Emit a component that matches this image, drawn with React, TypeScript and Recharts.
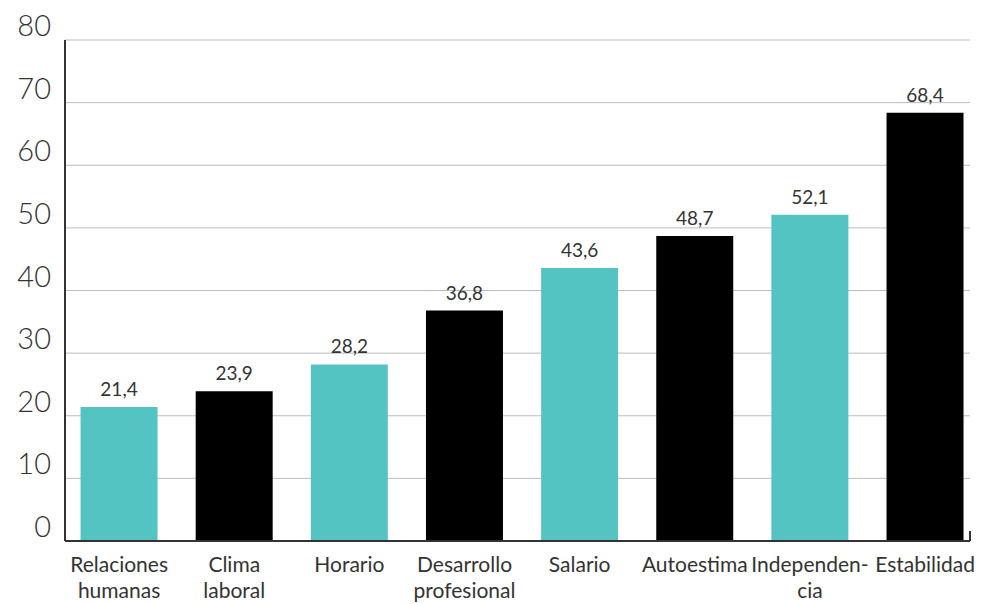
import React from 'react';
import { BarChart, Bar, XAxis, YAxis, CartesianGrid, Cell, LabelList, ReferenceLine } from 'recharts';

const categories = [
  'Relaciones\nhumanas',
  'Clima\nlaboral',
  'Horario',
  'Desarrollo\nprofesional',
  'Salario',
  'Autoestima',
  'Independen-\ncia',
  'Estabilidad',
];
const values = [21.4, 23.9, 28.2, 36.8, 43.6, 48.7, 52.1, 68.4];
const barColors = ['#53c4c1', '#000000', '#53c4c1', '#000000', '#53c4c1', '#000000', '#53c4c1', '#000000'];
const yTicks = [0, 10, 20, 30, 40, 50, 60, 70, 80];
const xTicks = [0, 1, 2, 3, 4, 5, 6, 7];
const X_DOMAIN: [number, number] = [-0.47, 7.39];

const data = values.map((v, i) => ({ idx: i, name: categories[i], value: v }));

const FONT = 'Lato, "Noto Sans", sans-serif';

const YTick = (props: any) => {
  const { x, y, payload } = props;
  return (
    <text x={x + 1} y={y} dy={-4} textAnchor="end" fontFamily={FONT} fontWeight={300} fontSize={29} fill="#333">
      {payload.value}
    </text>
  );
};

const XTick = (props: any) => {
  const { x, y, payload } = props;
  const lines = String(categories[payload.value] ?? '').split('\n');
  return (
    <text x={x} y={y} textAnchor="middle" fontFamily={FONT} fontSize={21} fill="#333">
      {lines.map((l, i) => (
        <tspan key={i} x={x} dy={i === 0 ? 31 : 25.5}>
          {l}
        </tspan>
      ))}
    </text>
  );
};

export default function App() {
  return (
    <div style={{ position: 'absolute', left: 0, top: 0, background: '#fff' }}>
      <BarChart width={994} height={604} data={data} margin={{ top: 40, right: 24, bottom: 0, left: 0 }}>
        <CartesianGrid horizontal vertical={false} stroke="#bdbdbd" strokeWidth={1} />
        <XAxis
          dataKey="idx"
          type="number"
          domain={X_DOMAIN}
          ticks={xTicks}
          allowDataOverflow
          height={63}
          tickLine={false}
          tickSize={0}
          tickMargin={0}
          axisLine={{ stroke: '#333', strokeWidth: 2 }}
          tick={<XTick />}
          interval={0}
        />
        <YAxis
          domain={[0, 80]}
          ticks={yTicks}
          width={65}
          tickLine={false}
          tickSize={0}
          tickMargin={15}
          axisLine={{ stroke: '#333', strokeWidth: 2 }}
          tick={<YTick />}
          interval={0}
        />
        <ReferenceLine
          segment={[{ x: X_DOMAIN[1], y: 0 }, { x: X_DOMAIN[1], y: 1.6 }]}
          stroke="#333"
          strokeWidth={2}
          ifOverflow="visible"
        />
        <Bar dataKey="value" barSize={77} isAnimationActive={false}>
          {data.map((d, i) => (
            <Cell key={i} fill={barColors[i]} />
          ))}
          <LabelList
            dataKey="value"
            position="top"
            offset={11}
            formatter={(v: any) => String(v).replace('.', ',')}
            style={{ fontFamily: FONT, fontSize: 19, fill: '#333' }}
          />
        </Bar>
      </BarChart>
    </div>
  );
}
